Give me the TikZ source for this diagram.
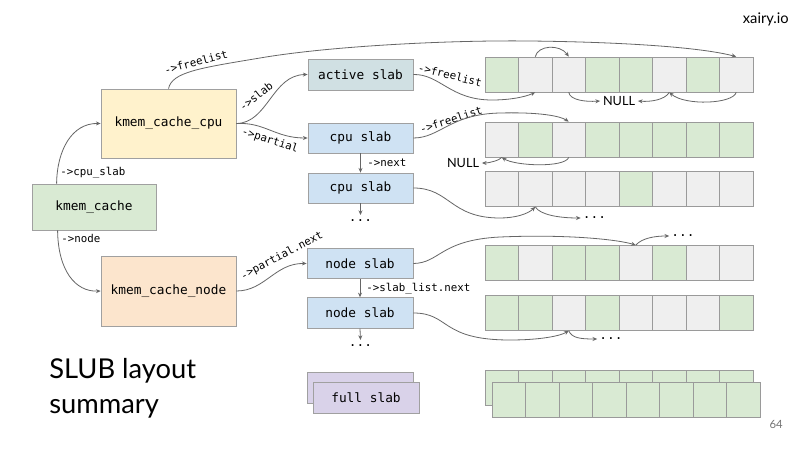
\documentclass[tikz,border=0pt]{standalone}
\usepackage{fontspec}
\setmonofont{DejaVu Sans Mono}
\newfontfamily\lato{Lato}
\usetikzlibrary{arrows.meta}
\definecolor{cg}{HTML}{D9EAD3}
\definecolor{cw}{HTML}{EFEFEF}
\definecolor{cellline}{HTML}{9A9A9A}
\definecolor{boxline}{HTML}{A0A0A0}
\definecolor{connc}{HTML}{666666}
\definecolor{cpuy}{HTML}{FFF2CC}
\definecolor{nodeo}{HTML}{FCE5CD}
\definecolor{activeb}{HTML}{D0E0E3}
\definecolor{slabb}{HTML}{CFE2F3}
\definecolor{fullp}{HTML}{D9D2E9}
\begin{document}
\begin{tikzpicture}[x=0.75pt,y=-0.75pt,
  box/.style={draw=boxline, line width=0.6pt, inner sep=0pt, font={\fontsize{9.6}{11}\ttfamily}},
  cell/.style={draw=cellline, line width=0.5pt, minimum width=25.125pt, minimum height=26.25pt, inner sep=0pt},
  conn/.style={draw=connc, line width=0.6pt, -{Stealth[length=3.5pt,width=3pt]}},
  lbl/.style={font={\fontsize{8.1}{10}\ttfamily}, inner sep=0pt},
  nulltxt/.style={font={\fontsize{9.5}{11}\lato}, inner sep=2pt},
  dotstxt/.style={font={\fontsize{9.6}{11}\ttfamily}, inner sep=1.5pt},
  titletxt/.style={font={\fontsize{20.5}{24}\lato}, anchor=base west, inner sep=0pt},
]
\useasboundingbox[fill=white] (0,0) rectangle (800,450);

% left boxes
\node[box, fill=cpuy, minimum width=101.25pt, minimum height=51.75pt] (kcc) at (168.5,123.5) {kmem\_cache\_cpu};
\node[box, fill=cg, minimum width=93pt, minimum height=34.5pt] (kc) at (94,207) {kmem\_cache};
\node[box, fill=nodeo, minimum width=101.25pt, minimum height=52.5pt] (kcn) at (168.5,291) {kmem\_cache\_node};

% slab boxes
\node[box, fill=activeb, minimum width=78.75pt, minimum height=23.25pt] (as) at (360.5,74.5) {active slab};
\node[box, fill=slabb, minimum width=78.75pt, minimum height=22.5pt] (cs1) at (360.5,138) {cpu slab};
\node[box, fill=slabb, minimum width=78.75pt, minimum height=22.5pt] (cs2) at (360.5,188) {cpu slab};
\node[box, fill=slabb, minimum width=79.5pt, minimum height=23pt] (ns1) at (360,263.5) {node slab};
\node[box, fill=slabb, minimum width=79.5pt, minimum height=23pt] (ns2) at (360,313) {node slab};
\node[box, fill=fullp, minimum width=79.5pt, minimum height=23.25pt] (fsb) at (360,387.5) {};
\node[box, fill=fullp, minimum width=79.5pt, minimum height=23.25pt] (fsf) at (366,397.5) {full slab};

% object rows
\foreach \r/\yy/\cols in {1/74.5/{g,w,w,g,g,w,g,w}, 2/139.5/{w,g,w,g,g,g,g,g}, 3/189/{w,w,w,w,g,w,w,w}, 4/263/{g,w,g,g,w,g,w,w}, 5/313/{g,g,w,g,w,w,w,g}, 6/388/{g,g,g,g,g,g,g,g}}{
  \foreach \c [count=\i] in \cols {
    \node[cell, fill=c\c] (r\r-\i) at ({485+33.5*(\i-0.5)},\yy) {};
  }
}
\foreach \i in {1,...,8} {
  \node[cell, fill=cg] (f-\i) at ({492+33.5*(\i-0.5)},399.5) {};
}

% texts
\node[nulltxt] (null1) at (619,101) {NULL};
\node[nulltxt] (null2) at (463,163) {NULL};
\node[dotstxt] (dots1) at (360.5,221) {...};
\node[dotstxt] (dots2) at (360.5,346) {...};
\node[dotstxt] (dotsA) at (594.5,218) {...};
\node[dotstxt] (dotsB) at (683,236) {...};
\node[dotstxt] (dotsC) at (611,339) {...};
\coordinate (e1) at (360.5,215);
\coordinate (e2) at (360.5,340);

\node[lbl, anchor=west] (l1) at (60,173) {->cpu\_slab};
\node[lbl, anchor=west] (l2) at (61,238) {->node};
\node[lbl, rotate=15] (l3) at (196,62) {->freelist};
\node[lbl, rotate=38] (l4) at (256,96) {->slab};
\node[lbl, rotate=-18] (l5) at (270,141) {->partial};
\node[lbl, anchor=west] (l6) at (367,163) {->next};
\node[lbl, rotate=28] (l7) at (282,256) {->partial.next};
\node[lbl, anchor=west] (l8) at (366,289) {->slab\_list.next};
\node[lbl, rotate=-14] (l9) at (450,75) {->freelist};
\node[lbl, rotate=18] (l10) at (451,120) {->freelist};

% connectors
\draw[conn] ([xshift=18.75pt]kc.north west) .. controls (57,150) and (72,123) .. (kcc.west);
\draw[conn] ([xshift=19.5pt]kc.south west) .. controls (58,270) and (75,292) .. (kcn.west);
\draw[conn] (kcc.north) .. controls (172,72) and (200,68) .. (260,58) .. controls (330,46) and (450,40) .. (530,41) .. controls (620,42) and (700,47) .. (r1-8.north);
\draw[conn] (kcc.east) .. controls (268,123) and (272,75) .. (as.west);
\draw[conn] (kcc.east) .. controls (265,122) and (275,138) .. (cs1.west);
\draw[conn] (kcn.east) .. controls (265,291) and (275,263) .. (ns1.west);
\draw[conn] (cs1.south) -- (cs2.north);
\draw[conn] (cs2.south) -- (e1);
\draw[conn] (ns1.south) -- (ns2.north);
\draw[conn] (ns2.south) -- (e2);

\draw[conn] (as.east) .. controls (440,74) and (450,100) .. (492,100) .. controls (510,100) and (525,97) .. (r1-2.south);
\draw[conn] (r1-2.north) .. controls (538,45) and (560,44) .. (r1-3.north);
\draw[conn] (r1-3.south) .. controls (570,100) and (585,102) .. (null1.west);
\draw[conn] (r1-6.south) .. controls (665,100) and (650,102) .. (null1.east);
\draw[conn] (r1-8.south) .. controls (733,104) and (685,106) .. (r1-6.south);

\draw[conn] (cs1.east) .. controls (440,138) and (450,114) .. (500,113) .. controls (540,112) and (560,116) .. (r2-3.north);
\draw[conn] (r2-3.south) .. controls (565,168) and (515,166) .. (r2-1.south);
\draw[conn] (r2-1.south) .. controls (500,160) and (490,163) .. (null2.east);

\draw[conn] (cs2.east) .. controls (450,188) and (450,218) .. (500,218) .. controls (515,218) and (528,214) .. (r3-2.south);
\draw[conn] (r3-2.south) .. controls (540,215) and (560,218) .. (dotsA.west);

\draw[conn] (ns1.east) .. controls (440,263) and (440,240) .. (500,237) .. controls (570,234) and (620,240) .. (r4-5.north);
\draw[conn] (r4-5.north) .. controls (642,238) and (655,236) .. (dotsB.west);

\draw[conn] (ns2.east) .. controls (450,313) and (440,340) .. (510,340) .. controls (540,340) and (560,336) .. (r5-3.south);
\draw[conn] (r5-3.south) .. controls (572,338) and (580,339) .. (dotsC.west);

% title and page marks
\node[titletxt] (t1) at (49,378) {SLUB layout};
\node[titletxt] (t2) at (49,413) {summary};
\node[font={\fontsize{11}{13}\lato}, anchor=base east, inner sep=0pt] (site) at (789,23) {xairy.io};
\node[font={\fontsize{8.5}{10}\lato}, text=black!55, anchor=base east, inner sep=0pt] (pg) at (783,428) {64};
\end{tikzpicture}
\end{document}
